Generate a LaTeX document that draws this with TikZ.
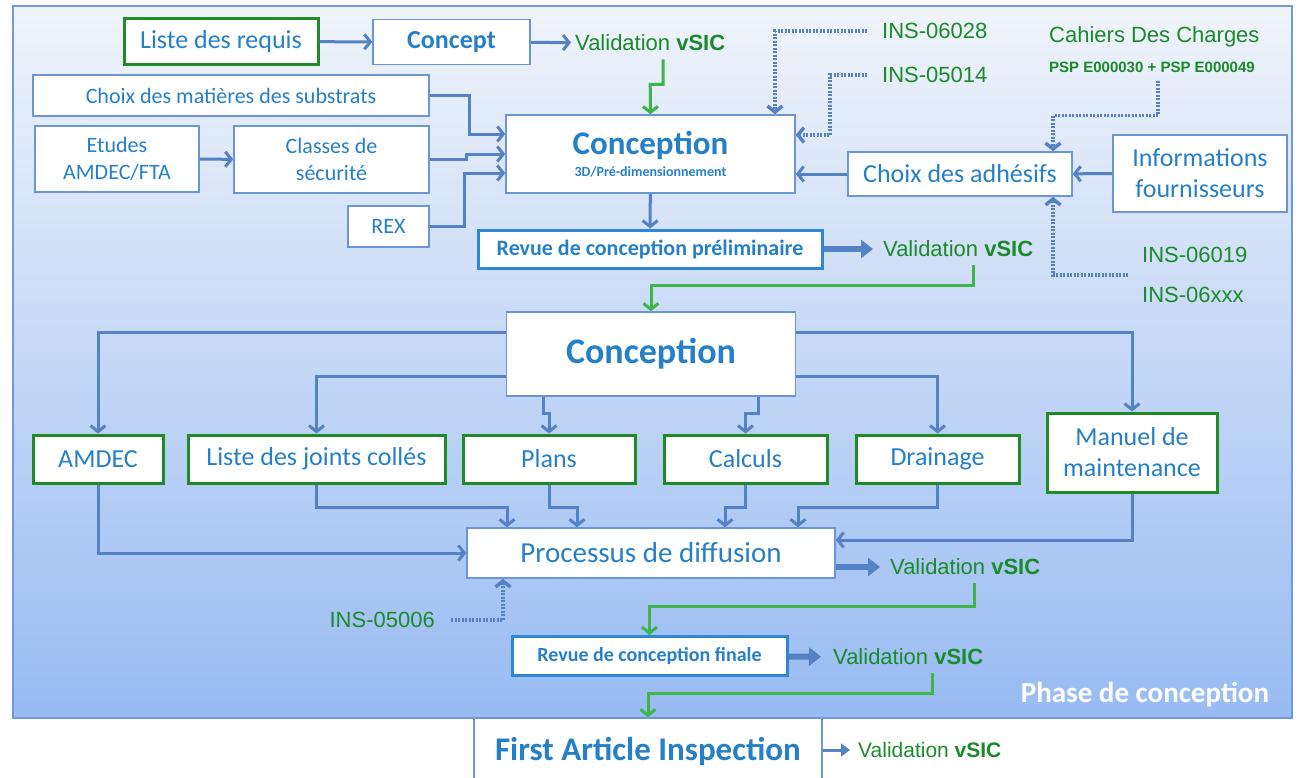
\documentclass[tikz,border=0pt]{standalone}
\usepackage{fontspec}
\setmainfont{Carlito}
\newfontfamily\arialf{Liberation Sans}
\usetikzlibrary{arrows.meta}
\definecolor{boxtext}{HTML}{2580C8}
\definecolor{boxline}{HTML}{6A96D6}
\definecolor{revline}{HTML}{2E86D6}
\definecolor{greenline}{HTML}{1F8B24}
\definecolor{linkblue}{HTML}{5482C4}
\definecolor{golink}{HTML}{3DB54A}
\definecolor{vsictext}{HTML}{1A8A2A}
\definecolor{bgtop}{HTML}{F0F4FA}
\definecolor{bgmid}{HTML}{BACDEB}
\definecolor{bgbot}{HTML}{98BBF2}
\definecolor{frame}{HTML}{6D9BDB}
\newcommand{\fsz}[2]{\fontsize{#1}{#2}\selectfont}
\newcommand{\vsic}{Validation \textbf{vSIC}}
\tikzset{
  box/.style     = {draw=boxline, line width=1.5pt, fill=white, text=boxtext,
                    inner sep=0pt, align=center, font=\fsz{26}{31}},
  reqbox/.style  = {box, draw=greenline, line width=3pt},
  revbox/.style  = {box, draw=revline, line width=3pt},
  valtext/.style = {text=vsictext, inner sep=0pt, anchor=west,
                    font=\arialf\fsz{22}{26}},
  link/.style    = {draw=linkblue, line width=3pt,
                    -{Straight Barb[length=6pt,width=15pt]}},
  dotlink/.style = {link, line width=3.5pt, dash pattern=on 2pt off 1.5pt},
  golink/.style  = {link, draw=golink},
  bigarrow/.style= {draw=linkblue, line width=6pt,
                    -{Triangle[length=12pt,width=18pt]}}
}

\begin{document}
\begin{tikzpicture}[x=1pt,y=-1pt]
  \useasboundingbox (0,0) rectangle (1301,777);
  \shadedraw[top color=bgtop, middle color=bgmid, bottom color=bgbot,
             draw=frame, line width=1.5pt] (13,6) rectangle (1292,718);
  \node[text=white, inner sep=0pt, font=\bfseries\fsz{29}{34}] (phase) at (1145,695) {Phase de conception};

  % avant-projet
  \node[reqbox, minimum width=194, minimum height=46] (requis) at (221,41.5) {Liste des requis};
  \node[box, minimum width=157, minimum height=45, font=\bfseries\fsz{26}{31}] (concept) at (451.5,42) {Concept};
  \node[valtext] (val0) at (575,43) {\vsic};
  \node[box, minimum width=396, minimum height=41, font=\fsz{22}{27}] (matieres) at (231,95.5) {Choix des matières des substrats};
  \node[box, minimum width=164, minimum height=66, font=\fsz{22}{27}] (etudes) at (117,159) {Etudes\\AMDEC/FTA};
  \node[box, minimum width=195, minimum height=67, font=\fsz{22}{27}] (classes) at (331.5,159.5) {Classes de\\sécurité};
  \node[box, minimum width=81, minimum height=41, font=\fsz{22}{27}] (rex) at (388.5,226.5) {REX};
  \node[box, minimum width=289, minimum height=78] (conc1) at (650.5,154)
    {\fsz{33}{36}\bfseries Conception\\[-9pt]\fsz{14}{16}\bfseries 3D/Pré-dimensionnement};
  \node[box, minimum width=224, minimum height=44] (adhesifs) at (960,174) {Choix des adhésifs};
  \node[box, minimum width=174, minimum height=77] (fourn) at (1200,173.5) {Informations\\fournisseurs};
  \node[valtext] (ins06028) at (882,31) {INS-06028};
  \node[valtext] (ins05014) at (882,75) {INS-05014};
  \node[valtext] (cahiers) at (1049,37) {Cahiers Des Charges};
  \node[valtext, font=\arialf\bfseries\fsz{15}{18}] (psp) at (1049,67) {PSP E000030 + PSP E000049};
  \node[valtext] (ins06019) at (1142,255) {INS-06019};
  \node[valtext] (ins06xxx) at (1142,295) {INS-06xxx};
  \coordinate (insg) at (1128,275);
  \node[revbox, minimum width=344, minimum height=38, font=\bfseries\fsz{22}{26}] (revue1) at (650,249) {Revue de conception préliminaire};
  \node[valtext] (val1) at (883,249) {\vsic};

  % conception detaillee
  \node[box, minimum width=289, minimum height=84, font=\bfseries\fsz{36}{40}] (conc2) at (651,354) {Conception};
  \node[reqbox, minimum width=130, minimum height=48] (amdec) at (98,459) {AMDEC};
  \node[reqbox, minimum width=257, minimum height=48] (joints) at (316.5,459) {Liste des joints collés};
  \node[reqbox, minimum width=172, minimum height=48] (plans) at (549,459) {Plans};
  \node[reqbox, minimum width=163, minimum height=48] (calculs) at (745.5,459) {Calculs};
  \node[reqbox, minimum width=163, minimum height=48] (drainage) at (937.5,459) {Drainage};
  \node[reqbox, minimum width=170, minimum height=79] (manuel) at (1132,452.5) {Manuel de\\maintenance};
  \node[box, minimum width=368, minimum height=50, font=\fsz{29}{34}] (diffusion) at (651,553) {Processus de diffusion};
  \node[valtext] (val2) at (890,567) {\vsic};
  \node[valtext, anchor=east] (ins05006) at (435,620) {INS-05006};
  \node[revbox, minimum width=275, minimum height=39, font=\bfseries\fsz{20}{24}] (revue2) at (649.5,656) {Revue de conception finale};
  \node[valtext] (val3) at (833,657) {\vsic};
  \node[box, minimum width=348, minimum height=66, font=\bfseries\fsz{33}{38}] (fai) at (648,751) {First Article Inspection};
  \node[valtext, font=\arialf\fsz{21}{25}] (val4) at (858,750) {\vsic};

  \draw[link] (requis) -- (concept);
  \draw[link, shorten >=4pt] (concept) -- (val0);
  \draw[golink] ([xshift=13pt,yshift=-8pt]val0.south) -- ++(0,25) -- ++(-13,0) -- (conc1.north);
  \draw[link] (matieres.east) -- ++(40,0) |- ([yshift=20pt]conc1.west);
  \draw[link] (classes.east) -- ++(37,0) |- (conc1.west);
  \draw[link] (rex.east) -- ++(35,0) |- ([yshift=-19pt]conc1.west);
  \draw[link] (etudes) -- (classes);
  \draw[dotlink] ([xshift=-15pt]ins06028.west) -| ([xshift=124.5pt]conc1.north);
  \draw[dotlink] ([xshift=-15pt]ins05014.west) -- ++(-37,0) |- ([yshift=19pt]conc1.east);
  \draw[link] (adhesifs.west) -- (adhesifs.west -| conc1.east);
  \draw[link] (fourn) -- (adhesifs);
  \draw[dotlink] ([xshift=6pt,yshift=-8pt]psp.south) -- ++(0,35) -| ([xshift=93pt]adhesifs.north);
  \draw[dotlink] (insg) -| ([xshift=93pt]adhesifs.south);
  \draw[link] (conc1) -- (revue1);
  \draw[bigarrow, shorten >=10pt] (revue1) -- (val1);
  \draw[golink] ([xshift=15pt,yshift=-8pt]val1.south) -- ++(0,20) -| (conc2.north);

  \draw[link] ([yshift=22pt]conc2.west) -| (amdec.north);
  \draw[link] ([yshift=-22pt]conc2.west) -| (joints.north);
  \draw[link] ([xshift=-108pt]conc2.south) -- ++(0,17) -| (plans.north);
  \draw[link] ([xshift=107pt]conc2.south) -- ++(0,17) -| (calculs.north);
  \draw[link] ([yshift=-22pt]conc2.east) -| (drainage.north);
  \draw[link] ([yshift=22pt]conc2.east) -| (manuel.north);
  \draw[link] (amdec.south) |- (diffusion.west);
  \draw[link] (joints.south) -- ++(0,23) -| ([xshift=-144pt]diffusion.north);
  \draw[link] (plans.south) -- ++(0,23) -| ([xshift=-74pt]diffusion.north);
  \draw[link] (calculs.south) -- ++(0,23) -| ([xshift=74pt]diffusion.north);
  \draw[link] (drainage.south) -- ++(0,23) -| ([xshift=147pt]diffusion.north);
  \draw[link] (manuel.south) |- ([yshift=13pt]diffusion.east);
  \draw[bigarrow, shorten >=10pt] (diffusion.east |- val2.west) -- (val2.west);
  \draw[dotlink] ([xshift=16pt]ins05006.east) -| ([xshift=-148pt]diffusion.south);
  \draw[golink] ([xshift=9pt,yshift=-8pt]val2.south) -- ++(0,23) -| (revue2.north);
  \draw[bigarrow, shorten >=12pt] (revue2) -- (val3);
  \draw[golink] ([xshift=24pt,yshift=-8pt]val3.south) -- ++(0,20) -| (fai.north);
  \draw[link, -{Triangle[length=9pt,width=13pt]}, shorten >=8pt] (fai.east |- val4.west) -- (val4.west);
\end{tikzpicture}
\end{document}
